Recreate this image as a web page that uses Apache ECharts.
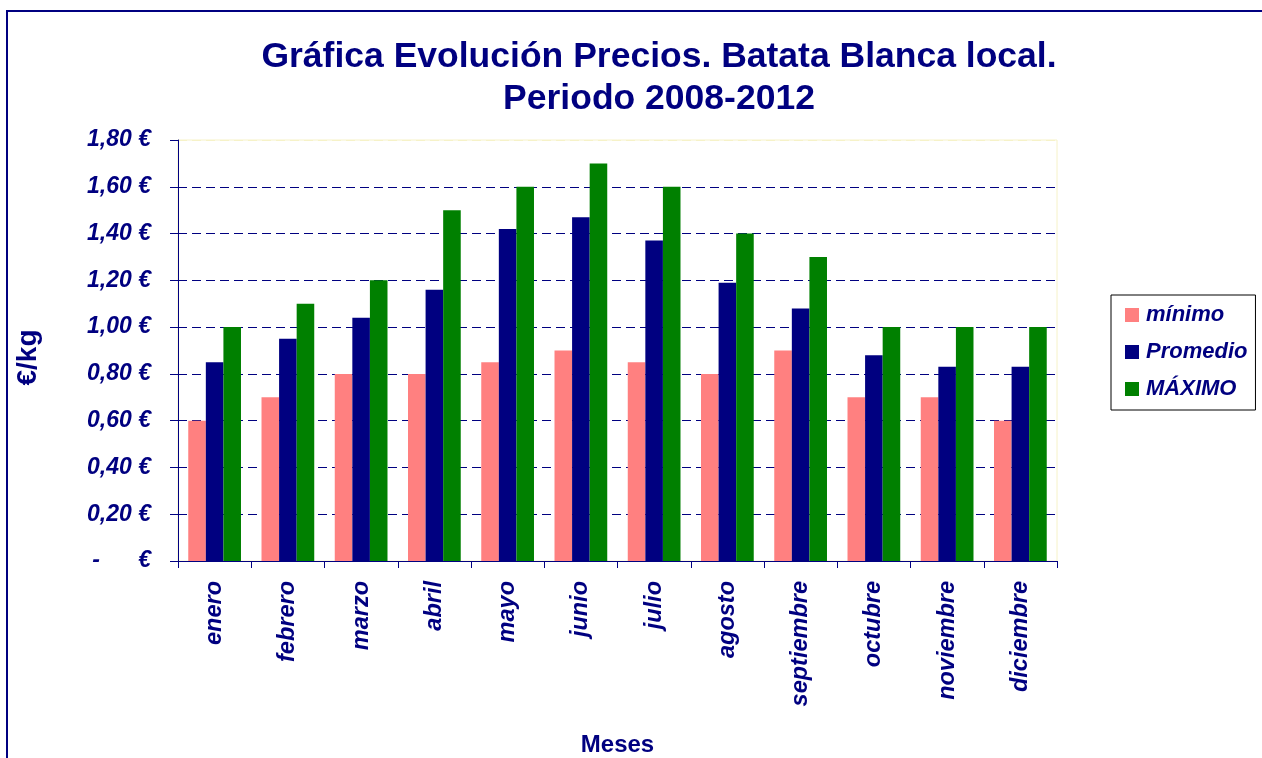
<!DOCTYPE html>
<html>
<head>
<meta charset="utf-8">
<script src="https://cdn.jsdelivr.net/npm/echarts@6/dist/echarts.min.js"></script>
<style>
  html, body { margin: 0; padding: 0; background: #fff; }
  #chart { width: 1262px; height: 758px; }
</style>
</head>
<body>
<div id="chart"></div>
<script>
// datos
const meses = ['enero', 'febrero', 'marzo', 'abril', 'mayo', 'junio', 'julio', 'agosto', 'septiembre', 'octubre', 'noviembre', 'diciembre'];
const minimo = [0.60, 0.70, 0.80, 0.80, 0.85, 0.90, 0.85, 0.80, 0.90, 0.70, 0.70, 0.60];
const promedio = [0.85, 0.95, 1.04, 1.16, 1.42, 1.47, 1.37, 1.19, 1.08, 0.88, 0.83, 0.83];
const maximo = [1.00, 1.10, 1.20, 1.50, 1.60, 1.70, 1.60, 1.40, 1.30, 1.00, 1.00, 1.00];
const nombresSeries = ['mínimo', 'Promedio', 'MÁXIMO'];

const navy = '#000080';
const fuente = '"Liberation Sans", Arial, sans-serif';

const chart = echarts.init(document.getElementById('chart'));

// 10 líneas de rejilla: la de arriba queda amarilla pálida como el borde
const coloresRejilla = [navy, navy, navy, navy, navy, navy, navy, navy, navy, '#f6f2c8'];

const options = {
  backgroundColor: '#fff',
  animation: false,
  title: {
    text: 'Gráfica Evolución Precios. Batata Blanca local.\nPeriodo 2008-2012',
    left: 654,
    top: 31,
    textAlign: 'center',
    textStyle: {
      color: navy,
      fontFamily: fuente,
      fontWeight: 'bold',
      fontSize: 35.5,
      lineHeight: 42
    }
  },
  legend: {
    orient: 'vertical',
    left: 1111,
    top: 295,
    padding: [9, 8, 10, 14],
    itemWidth: 14,
    itemHeight: 14,
    itemGap: 15,
    borderColor: '#000',
    borderWidth: 1,
    icon: 'rect',
    data: nombresSeries,
    textStyle: {
      color: navy,
      fontFamily: fuente,
      fontWeight: 'bold',
      fontStyle: 'italic',
      fontSize: 22,
      padding: [0, 0, 0, 2]
    }
  },
  grid: {
    left: 178,
    right: 205,
    top: 140,
    bottom: 197,
    outerBoundsMode: 'none',
    containLabel: false,
    show: true,
    borderColor: '#f6f2c8',
    borderWidth: 1
  },
  xAxis: {
    type: 'category',
    data: meses,
    name: 'Meses',
    nameLocation: 'middle',
    nameGap: 172,
    nameTextStyle: {
      color: navy,
      fontFamily: fuente,
      fontWeight: 'bold',
      fontSize: 24
    },
    axisLine: { lineStyle: { color: navy, width: 1 } },
    axisTick: { show: true, length: 7, lineStyle: { color: navy } },
    axisLabel: {
      rotate: 90,
      margin: 20,
      color: navy,
      fontFamily: fuente,
      fontWeight: 'bold',
      fontStyle: 'italic',
      fontSize: 23.5
    }
  },
  yAxis: {
    type: 'value',
    min: 0,
    max: 1.8,
    interval: 0.2,
    name: '€/kg',
    nameLocation: 'middle',
    nameGap: 136,
    nameRotate: 90,
    nameTextStyle: {
      color: navy,
      fontFamily: fuente,
      fontWeight: 'bold',
      fontSize: 28,
      padding: [0, 14, 0, 0]
    },
    axisLine: { show: true, lineStyle: { color: navy, width: 1 } },
    axisTick: { show: true, inside: false, length: 8, lineStyle: { color: navy } },
    axisLabel: {
      margin: 27,
      color: navy,
      fontFamily: fuente,
      fontWeight: 'bold',
      fontStyle: 'italic',
      fontSize: 23,
      formatter: v => v === 0 ? '-      €' : v.toFixed(2).replace('.', ',') + ' €'
    },
    splitLine: {
      show: true,
      lineStyle: { color: coloresRejilla, type: [9, 5], width: 1 }
    }
  },
  series: [
    {
      name: nombresSeries[0],
      type: 'bar',
      data: minimo,
      barGap: '0%',
      barCategoryGap: '28%',
      itemStyle: { color: '#ff8080' }
    },
    {
      name: nombresSeries[1],
      type: 'bar',
      data: promedio,
      barGap: '0%',
      barCategoryGap: '28%',
      itemStyle: { color: navy }
    },
    {
      name: nombresSeries[2],
      type: 'bar',
      data: maximo,
      barGap: '0%',
      barCategoryGap: '28%',
      itemStyle: { color: '#008000' }
    }
  ],
  graphic: [
    {
      // marco exterior del gráfico
      type: 'rect',
      silent: true,
      shape: { x: 7, y: 11, width: 1300, height: 800 },
      style: { fill: null, stroke: navy, lineWidth: 2 }
    }
  ]
};

chart.setOption(options);
</script>
</body>
</html>
